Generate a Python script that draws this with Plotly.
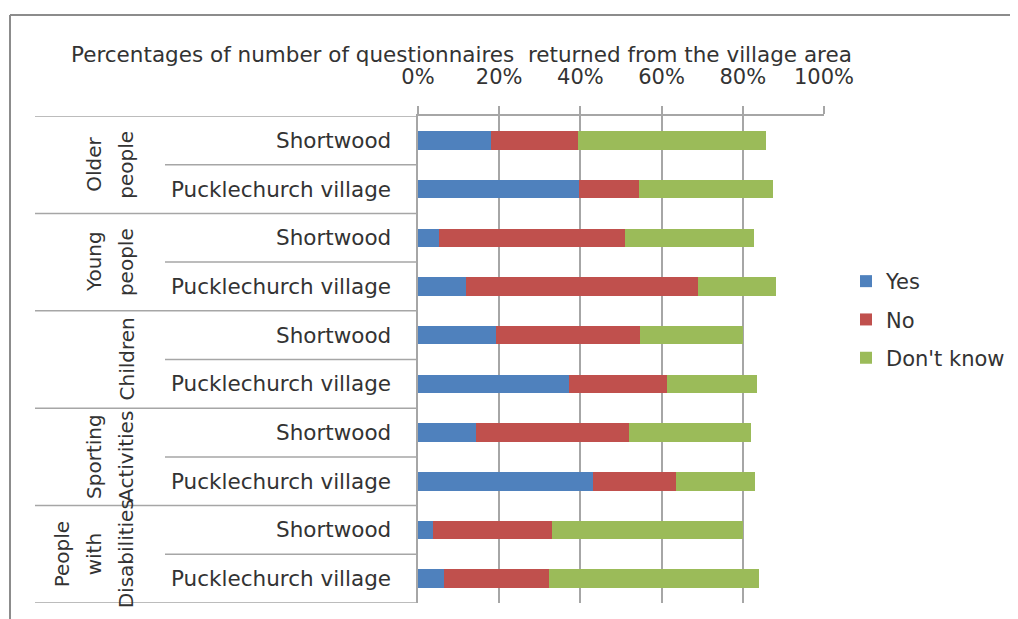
import plotly.graph_objects as go

groups = ["Older people", "Young people", "Children", "Sporting Activities", "People with Disabilities"]
group_lines = [["Older", "people"], ["Young", "people"], ["Children"], ["Sporting", "Activities"], ["People", "with", "Disabilities"]]
areas = ["Shortwood", "Pucklechurch village"]

yes = [18.1, 39.7, 5.2, 11.7, 19.1, 37.1, 14.4, 43.1, 3.6, 6.4]
no = [21.2, 14.7, 45.7, 57.2, 35.6, 24.2, 37.5, 20.4, 29.3, 25.9]
dont_know = [46.3, 33.1, 31.9, 19.2, 25.3, 22.1, 30.0, 19.6, 47.1, 51.7]

x_ticks = [0, 20, 40, 60, 80, 100]
title_text = "Percentages of number of questionnaires  returned from the village area"

row_labels = [a for g in groups for a in areas]
pos = list(range(len(row_labels)))

# page body has an 8px margin; the figure is sized to fill the rest of the window
OFF = 8
W, H = 1018 - OFF, 619 - OFF
L, R, T, B = 418 - OFF, 1018 - 824, 116 - OFF, 619 - 603
PW, PH = W - L - R, H - T - B

def px(xp):  # window pixel -> paper x
    return (xp - OFF - L) / PW

def py(yp):  # window pixel -> paper y
    return (H - B - (yp - OFF)) / PH

FONT = "DejaVu Sans"
TXT = "#333333"
GRID = "#a6a6a6"

fig = go.Figure()
for name, vals, col in [("Yes", yes, "#4f81bd"), ("No", no, "#c0504d"), ("Don't know", dont_know, "#9bbb59")]:
    fig.add_trace(go.Bar(y=pos, x=vals, orientation="h", name=name, width=0.38, legendgroup=name,
                         marker=dict(color=col, line=dict(width=0))))

shapes = []
annotations = []
for i, lab in enumerate(row_labels):
    annotations.append(dict(x=px(393), y=pos[i], xref="paper", yref="y", text=lab, showarrow=False,
                            xanchor="right", yanchor="middle", font=dict(family=FONT, size=21.5, color=TXT)))
for i in range(len(row_labels) + 1):
    yb = i - 0.5
    x0 = px(35) if i % 2 == 0 else px(165)
    shapes.append(dict(type="line", xref="paper", yref="y", x0=x0, x1=0, y0=yb, y1=yb,
                       line=dict(color=GRID, width=1.5)))
for gi, lines in enumerate(group_lines):
    yc = 2 * gi + 0.5
    n = len(lines)
    xs = [126 - 32 * (n - 1 - k) for k in range(n)]
    for k, t in enumerate(lines):
        annotations.append(dict(x=px(xs[k]), y=yc, xref="paper", yref="y", text=t, showarrow=False,
                                textangle=-90, xanchor="center", yanchor="middle",
                                font=dict(family=FONT, size=20, color=TXT)))
annotations.append(dict(x=px(461), y=py(55), xref="paper", yref="paper", text=title_text, showarrow=False,
                        xanchor="center", yanchor="middle", font=dict(family=FONT, size=21.5, color=TXT)))
shapes.append(dict(type="line", xref="paper", yref="paper", x0=px(10), x1=px(1040), y0=py(15), y1=py(15),
                   line=dict(color="#8c8c8c", width=2)))
shapes.append(dict(type="line", xref="paper", yref="paper", x0=px(10), x1=px(10), y0=py(15), y1=py(660),
                   line=dict(color="#8c8c8c", width=2)))

fig.update_layout(
    width=W, height=H,
    margin=dict(l=L, r=R, t=T, b=B, pad=0, autoexpand=False),
    paper_bgcolor="white", plot_bgcolor="white",
    barmode="stack",
    shapes=shapes, annotations=annotations,
    legend=dict(x=px(846), y=py(261), xanchor="left", yanchor="top", traceorder="grouped",
                font=dict(family=FONT, size=21, color=TXT), bgcolor="rgba(0,0,0,0)",
                tracegroupgap=8, itemwidth=30),
    xaxis=dict(side="top", range=[0, 100], tickvals=x_ticks, ticktext=[f"{v}%" for v in x_ticks],
               showgrid=True, gridcolor=GRID, gridwidth=1.5, zeroline=False, automargin=False,
               showline=True, linecolor=GRID, linewidth=1.5, ticks="outside", ticklen=8,
               tickcolor=GRID, tickwidth=1.5, ticklabelstandoff=14,
               tickfont=dict(family=FONT, size=21, color=TXT)),
    yaxis=dict(range=[len(row_labels) - 0.5, -0.5], showticklabels=False, showgrid=False, zeroline=False,
               automargin=False, showline=True, linecolor=GRID, linewidth=1.5, ticks=""),
    showlegend=True,
)

fig.write_html("out.html")
